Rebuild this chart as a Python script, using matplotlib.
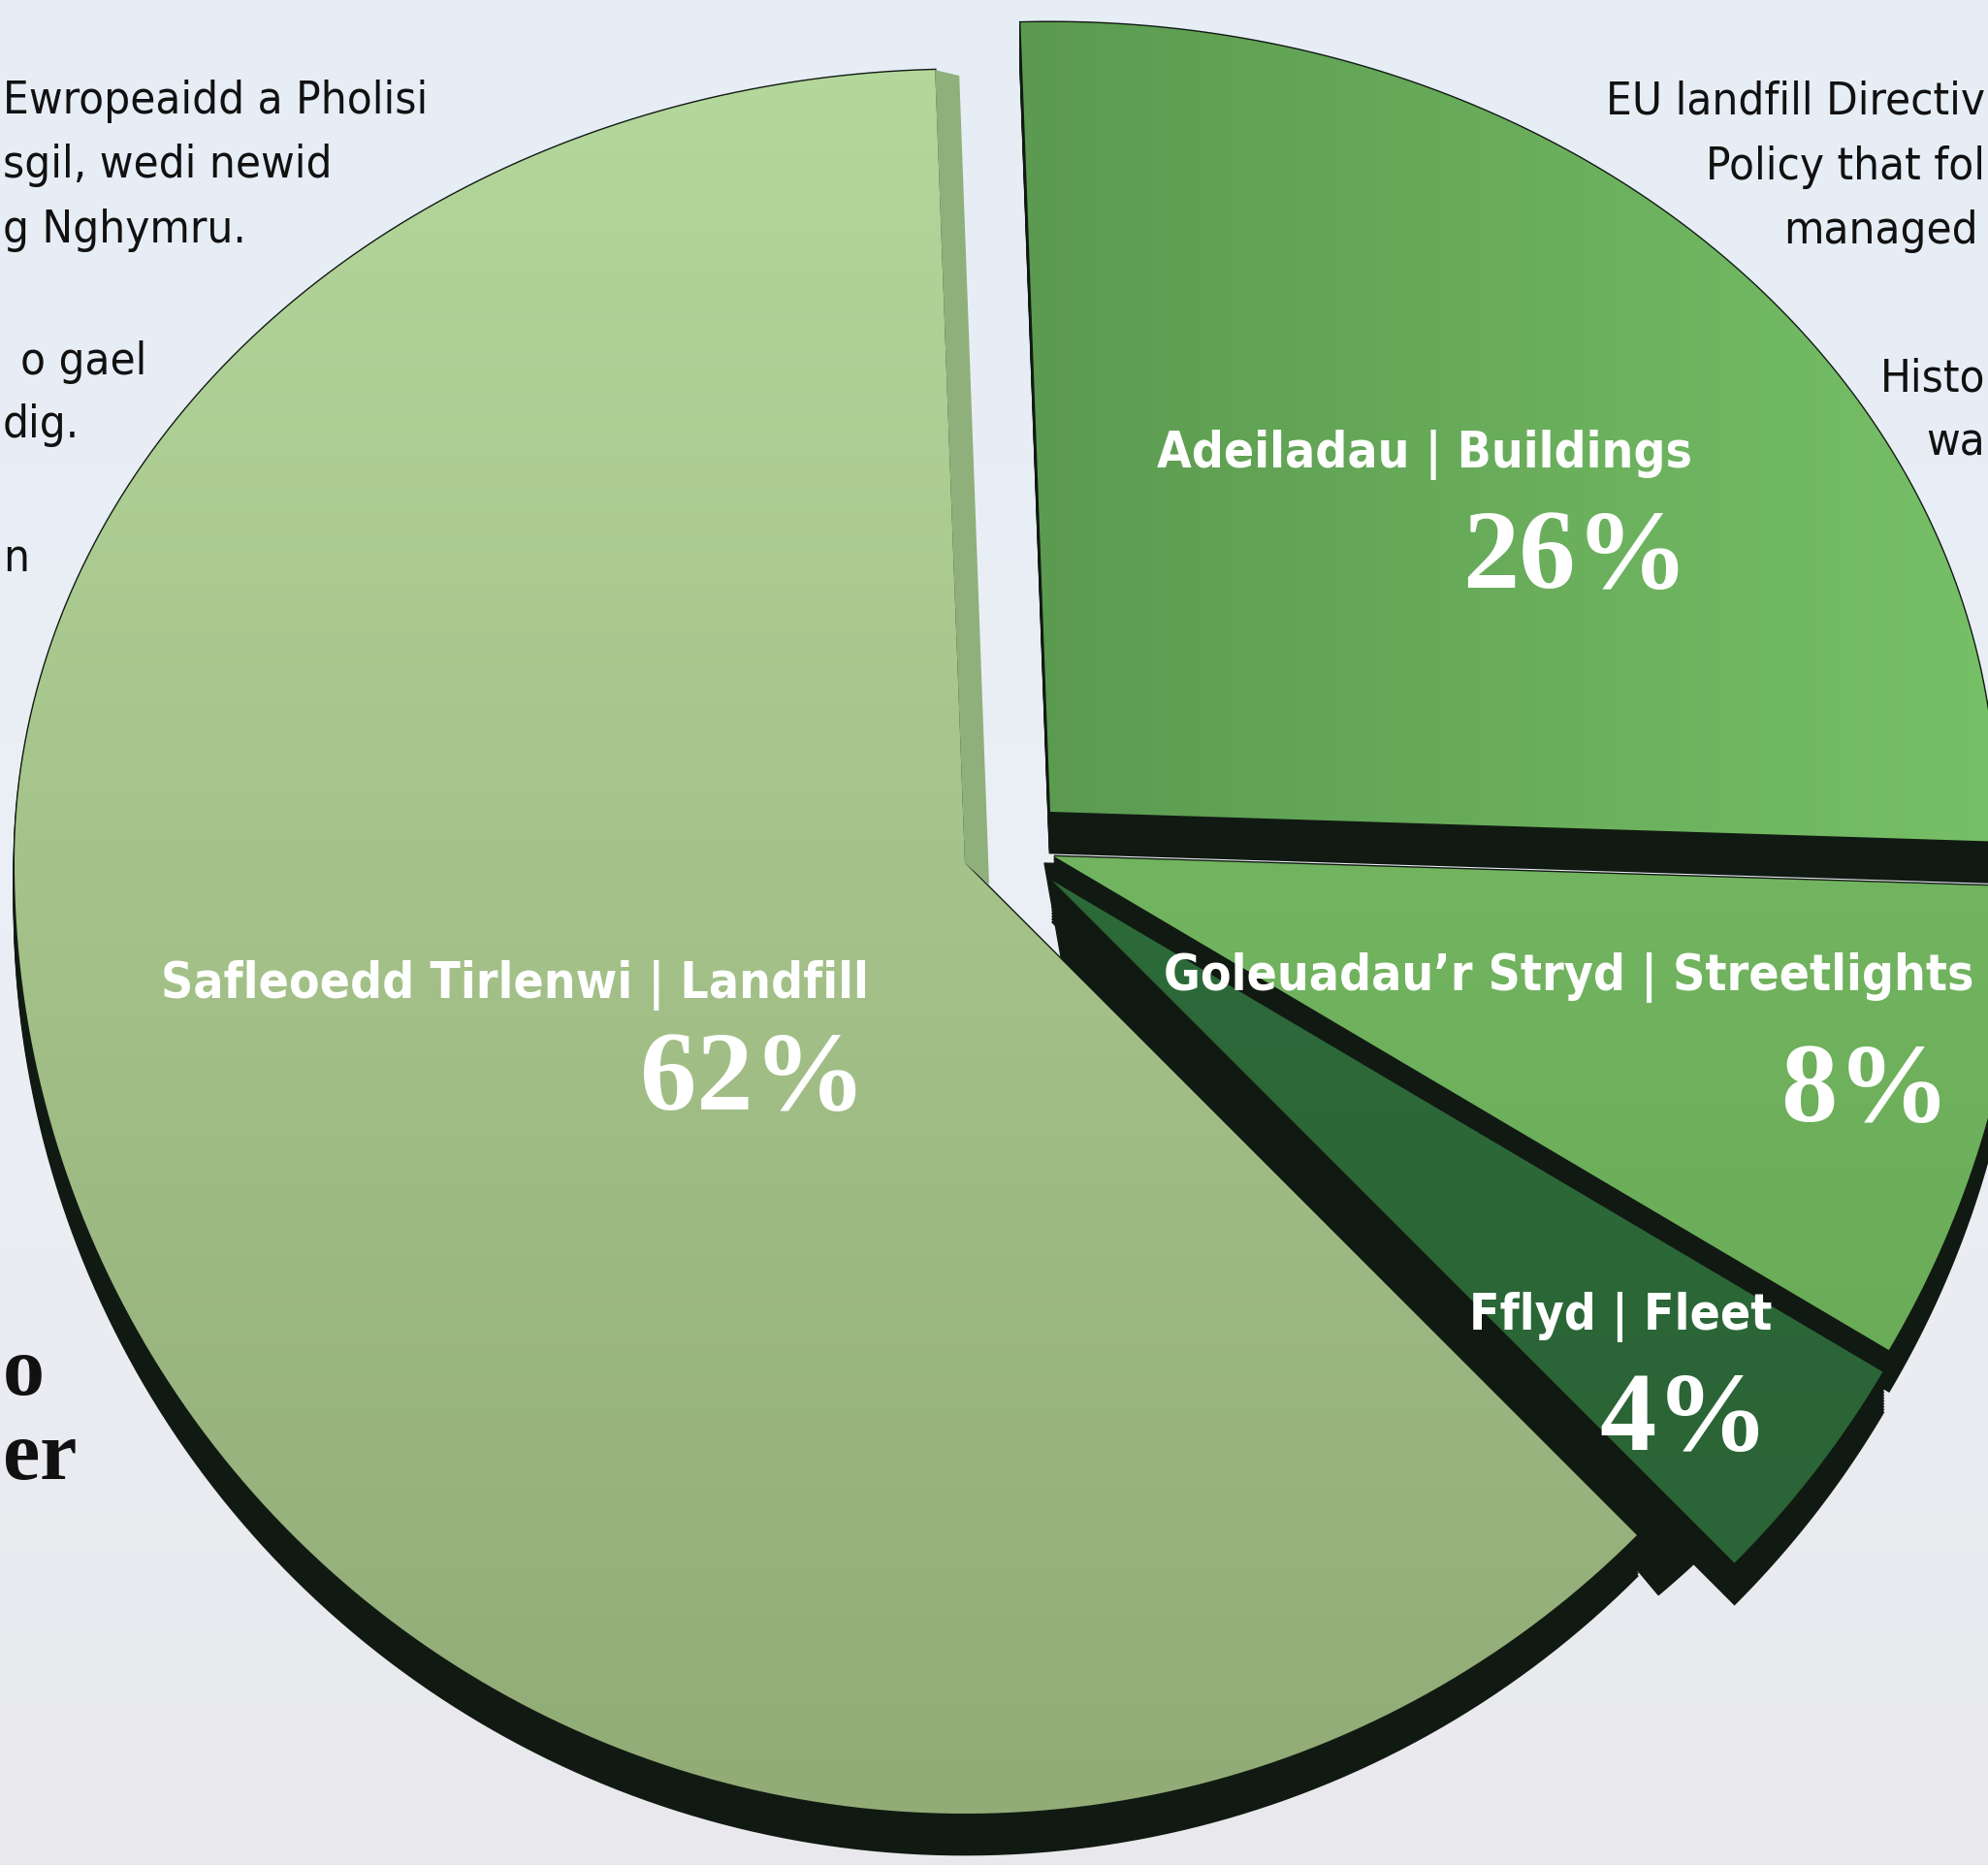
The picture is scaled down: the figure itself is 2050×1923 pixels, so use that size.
import os
import numpy as np
import matplotlib
matplotlib.use("Agg")
import matplotlib.pyplot as plt
from matplotlib import font_manager as fm
from matplotlib.patches import Polygon
from matplotlib.colors import LinearSegmentedColormap

# slice data, clockwise from the top
names_cy = ["Adeiladau", "Goleuadau\u2019r Stryd", "Fflyd", "Safleoedd Tirlenwi"]
names_en = ["Buildings", "Streetlights", "Fleet", "Landfill"]
shares = [26, 8, 4, 62]

# surrounding page text (cropped at the edges)
left_lines = ["Ewropeaidd a Pholisi", "sgil, wedi newid", "g Nghymru.", "o gael", "dig.", "n"]
right_lines = ["EU landfill Directiv", "Policy that fol", "managed", "Histo", "wa"]
heading_bits = ["o", "er"]

W, H = 2050, 1923
START = 91.8          # angle of the first slice edge
K_UP, K_LOW = 0.835, 1.0   # vertical squash of the tilted pie
DEPTH = 42

apex = [(1083, 837), (1087, 883), (1085, 908), (995, 890)]
radius = [975, 1000, 995, 980]
face_top = ["#5b9a50", "#72b45f", "#2d6a3a", "#b4d79b"]
face_bot = ["#77c067", "#6aac58", "#2b6436", "#92ab77"]
side_col = "#111a12"


def pick_font(files, **fallback):
    have = {os.path.basename(f.fname).lower(): f.fname for f in fm.fontManager.ttflist}
    for n in files:
        if n.lower() in have:
            return fm.FontProperties(fname=have[n.lower()])
    return fm.FontProperties(**fallback)


def sized(fp, size):
    f = fp.copy()
    f.set_size(size)
    return f


sans_bold = pick_font(["LiberationSansNarrow-Bold.ttf", "DejaVuSansCondensed-Bold.ttf"],
                      family="DejaVu Sans", weight="bold")
sans_reg = pick_font(["LiberationSansNarrow-Regular.ttf", "DejaVuSansCondensed.ttf"],
                     family="DejaVu Sans")
serif_bold = pick_font(["LiberationSerif-Bold.ttf", "DejaVuSerif-Bold.ttf"],
                       family="DejaVu Serif", weight="bold")


def arc(cx, cy, a0, a1, r, n=240):
    t = np.radians(np.linspace(a0, a1, n))
    s = np.sin(t)
    k = np.where(s > 0, K_UP, K_LOW)
    return np.column_stack([cx + r * np.cos(t), cy - r * s * k])


def wedge(cx, cy, a0, a1, r, n=240):
    return np.vstack([[cx, cy], arc(cx, cy, a0, a1, r, n)])


def gradient_face(ax, pts, c0, c1, horizontal=False, z=3):
    poly = Polygon(pts, closed=True, fc="none", ec="none", zorder=z)
    ax.add_patch(poly)
    g = np.linspace(0, 1, 256)
    img = g[None, :] if horizontal else g[:, None]
    x0, y0 = pts.min(axis=0)
    x1, y1 = pts.max(axis=0)
    cmap = LinearSegmentedColormap.from_list("f", [c0, c1])
    im = ax.imshow(img, cmap=cmap, extent=[x0, x1, y1, y0], origin="upper",
                   interpolation="bilinear", zorder=z)
    im.set_clip_path(poly)


fig = plt.figure(figsize=(W / 100, H / 100), dpi=100)
ax = fig.add_axes([0, 0, 1, 1])

# sky-ish page background
bg = np.linspace(0, 1, 256)[:, None]
bg_cmap = LinearSegmentedColormap.from_list("bg", ["#e6edf6", "#ebeff5", "#e9e9ed"])
ax.imshow(bg, cmap=bg_cmap, extent=[0, W, H, 0], origin="upper", aspect="auto", zorder=0)

edges = START - 3.6 * np.concatenate([[0], np.cumsum(shares)])

# dark underside showing in the gaps between the lower slices
ux, uy = 1077, 890
under = np.vstack([[ux, uy],
                   arc(ux, uy, edges[1], edges[3] - 5, 985),
                   arc(ux, uy, edges[3] - 5, edges[3] - 35, 700)])
ax.add_patch(Polygon(under, closed=True, fc=side_col, ec=side_col, zorder=1))

for i in range(len(shares)):
    cx, cy = apex[i]
    pts = wedge(cx, cy, edges[i], edges[i + 1], radius[i])
    z = 2 + 2 * i
    for off in np.linspace(0, DEPTH, 15):
        ax.add_patch(Polygon(pts + [0, off], closed=True, fc=side_col, ec=side_col,
                             lw=2, zorder=z))
    if i == 3:
        # narrow visible side along the landfill's upper edge
        top = pts[-1]
        strip = np.array([top, top + [25, 6], [cx + 25, cy + 22], [cx, cy]])
        ax.add_patch(Polygon(strip, closed=True, fc="#8fb07a", ec="none", zorder=z))
    gradient_face(ax, pts, face_top[i], face_bot[i], horizontal=(i == 0), z=z + 1)

# slice labels
label_pos = [(1745, 482), (2035, 1021), (1827, 1371), (896, 1029)]
pct_pos = [(1741, 606), (2011, 1156), (1824, 1495), (893, 1144)]
for i in range(len(shares)):
    ax.text(*label_pos[i], f"{names_cy[i]} | {names_en[i]}", color="white",
            ha="right", va="baseline", fontproperties=sized(sans_bold, 37), zorder=20)
    ax.text(*pct_pos[i], f"{shares[i]}%", color="white", ha="right", va="baseline",
            fontproperties=sized(serif_bold, 84), zorder=20)

# body text around the chart, trimmed where the page is cropped
left_xy = [(3, 117), (3, 183), (3, 250), (21, 386), (3, 451), (3, 589)]
for (x, y), s in zip(left_xy, left_lines):
    ax.text(x, y, s, color="#111111", ha="left", va="baseline",
            fontproperties=sized(sans_reg, 34), zorder=20)
right_xy = [(W - 3, 117), (W - 3, 185), (2040, 251), (W - 3, 403), (W - 3, 470)]
for (x, y), s in zip(right_xy, right_lines):
    ax.text(x, y, s, color="#111111", ha="right", va="baseline",
            fontproperties=sized(sans_reg, 34), zorder=20)
for (x, y), s in zip([(3, 1438), (3, 1525)], heading_bits):
    ax.text(x, y, s, color="#111111", ha="left", va="baseline",
            fontproperties=sized(serif_bold, 62), zorder=20)

ax.set_xlim(0, W)
ax.set_ylim(H, 0)
ax.set_aspect("auto")
ax.axis("off")

fig.savefig("out.png", dpi=100)
